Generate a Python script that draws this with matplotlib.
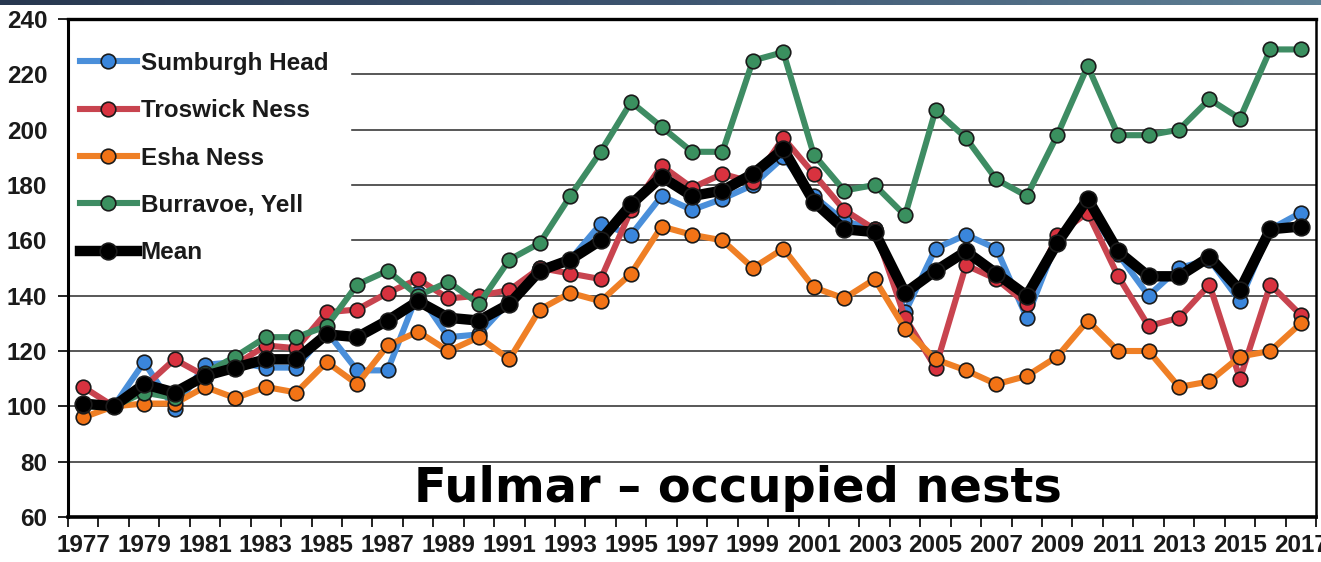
import numpy as np
import matplotlib
matplotlib.use("Agg")
import matplotlib.pyplot as plt
from matplotlib.ticker import FixedLocator
from matplotlib.colors import LinearSegmentedColormap

years = list(range(1977, 2018))
sumburgh = [101, 100, 116, 99, 115, 116, 114, 114, 127, 113, 113, 141, 125, 126, 138, 150, 153, 166, 162, 176, 171,
            175, 180, 190, 176, 167, 164, 134, 157, 162, 157, 132, 160, 172, 155, 140, 150, 153, 138, 164, 170]
troswick = [107, 100, 107, 117, 111, 115, 122, 121, 134, 135, 141, 146, 139, 140, 142, 150, 148, 146, 171, 187, 179,
            184, 181, 197, 184, 171, 164, 132, 114, 151, 146, 137, 162, 170, 147, 129, 132, 144, 110, 144, 133]
esha = [96, 100, 101, 101, 107, 103, 107, 105, 116, 108, 122, 127, 120, 125, 117, 135, 141, 138, 148, 165, 162,
        160, 150, 157, 143, 139, 146, 128, 117, 113, 108, 111, 118, 131, 120, 120, 107, 109, 118, 120, 130]
burravoe = [100, 100, 105, 103, 112, 118, 125, 125, 129, 144, 149, 140, 145, 137, 153, 159, 176, 192, 210, 201, 192,
            192, 225, 228, 191, 178, 180, 169, 207, 197, 182, 176, 198, 223, 198, 198, 200, 211, 204, 229, 229]
mean = [101, 100, 108, 105, 111, 114, 117, 117, 126, 125, 131, 138, 132, 131, 137, 149, 153, 160, 173, 183, 176,
        178, 184, 193, 174, 164, 163, 141, 149, 156, 148, 140, 159, 175, 156, 147, 147, 154, 142, 164, 165]

series_names = ["Sumburgh Head", "Troswick Ness", "Esha Ness", "Burravoe, Yell", "Mean"]
y_ticks = [60, 80, 100, 120, 140, 160, 180, 200, 220, 240]
title_text = "Fulmar \u2013 occupied nests"

W, H = 1321, 562
fig = plt.figure(figsize=(W / 100, H / 100), dpi=100)
fig.patch.set_facecolor("white")

# top gradient band
band = fig.add_axes([0, 1 - 5 / H, 1, 5 / H])
grad = np.linspace(0, 1, 256).reshape(1, -1)
cmap = LinearSegmentedColormap.from_list("band", ["#283850", "#3d5470", "#5f8196"])
band.imshow(grad, aspect="auto", cmap=cmap)
band.axis("off")

L, R, T, B = 68, 1316, 19, 517
ax = fig.add_axes([L / W, 1 - B / H, (R - L) / W, (B - T) / H])

x = np.arange(len(years))
styles = [
    (sumburgh, "#4a8fda", "#3a86dc", 4.4, 10.5),
    (troswick, "#c8444f", "#d8323f", 4.4, 10.5),
    (esha, "#ef7f25", "#f27316", 4.4, 10.5),
    (burravoe, "#3e8c63", "#3a905f", 4.4, 10.5),
    (mean, "#000000", "#000000", 7.5, 12),
]
handles = []
for (vals, lc, mc, lw, ms), name in zip(styles, series_names):
    h, = ax.plot(x, vals, color=lc, lw=lw, marker="o", ms=ms, mfc=mc,
                 mec="#1a1a1a", mew=1.2, label=name, solid_joinstyle="round", zorder=3)
    handles.append(h)

ax.set_xlim(-0.5, len(years) - 0.5)
ax.set_ylim(60, 240)

ax.yaxis.grid(True, color="#2a2a2a", lw=1.1)
ax.set_axisbelow(True)
ax.set_yticks(y_ticks)
ax.set_yticklabels([str(v) for v in y_ticks])

ax.set_xticks(x[::2])
ax.set_xticklabels([str(y) for y in years[::2]])
ax.xaxis.set_minor_locator(FixedLocator(np.arange(-0.5, len(years), 1.0)))
ax.tick_params(axis="x", which="major", length=0, pad=12)
ax.tick_params(axis="x", which="minor", length=7, width=1.3, direction="out", color="#111")
ax.tick_params(axis="y", which="major", length=7, width=1.3, direction="out", pad=8, color="#111")

for lab in ax.get_xticklabels() + ax.get_yticklabels():
    lab.set_fontfamily("Liberation Sans")
    lab.set_fontweight("bold")
    lab.set_fontsize(17.5)
    lab.set_color("#1a1a1a")

for side, lw in [("left", 2.2), ("bottom", 2.6), ("top", 2.4), ("right", 1.8)]:
    ax.spines[side].set_linewidth(lw)
    ax.spines[side].set_color("#000")
    ax.spines[side].set_zorder(4)

leg = ax.legend(handles=handles, loc="upper left", bbox_to_anchor=(-0.011, 0.985),
                prop={"family": "Liberation Sans", "weight": "bold", "size": 17.5},
                handlelength=2.35, handletextpad=0.15, labelspacing=1.0,
                borderpad=0.9, borderaxespad=0.15, frameon=True, fancybox=False)
leg.get_frame().set_facecolor("white")
leg.get_frame().set_edgecolor("white")
leg.get_frame().set_alpha(1)
leg.set_zorder(2)
for t in leg.get_texts():
    t.set_color("#1a1a1a")

ax.text(0.537, 65.5, title_text, transform=ax.get_yaxis_transform(),
        ha="center", va="baseline", fontsize=34.5, fontweight="bold",
        fontfamily="DejaVu Sans", color="#000", zorder=5)

fig.savefig("out.png", dpi=100, facecolor="white")
